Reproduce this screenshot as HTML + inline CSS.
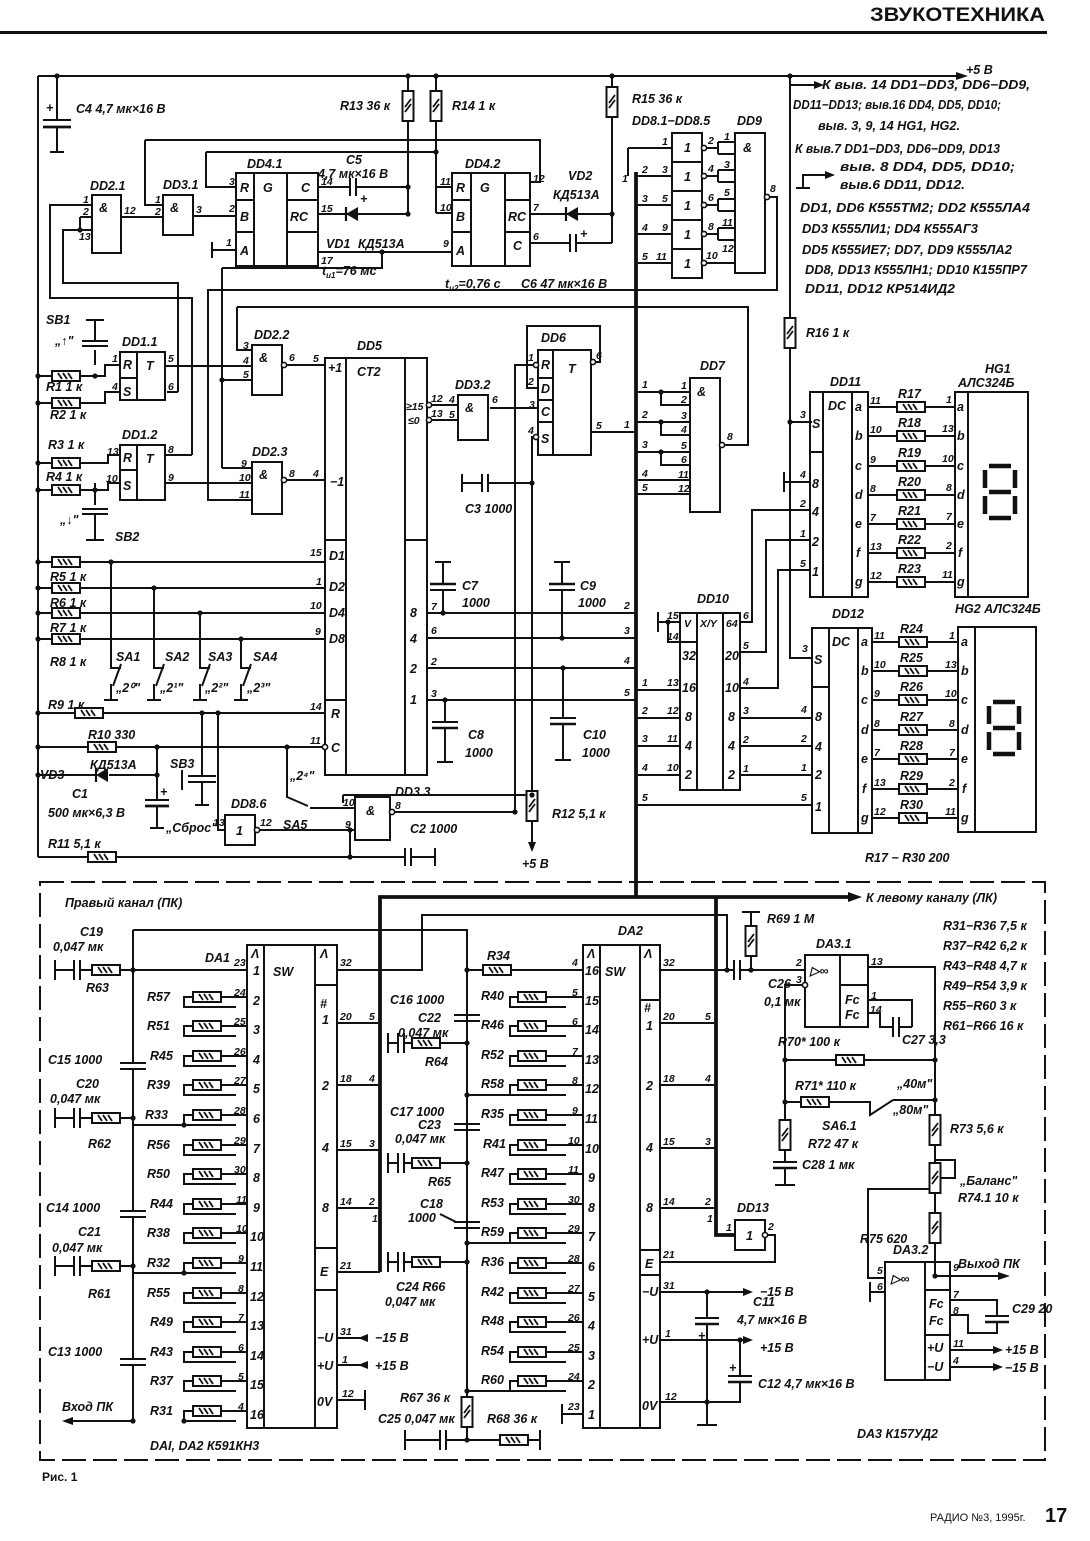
<!DOCTYPE html>
<html><head><meta charset="utf-8">
<style>
html,body{margin:0;padding:0;background:#fff}
svg{display:block}
.l{stroke:#111;stroke-width:2;fill:none}
.b{stroke:#111;stroke-width:3.8;fill:none}
.d{stroke:#111;stroke-width:2;fill:none;stroke-dasharray:24 7}
.s{stroke:#111;stroke-width:4.5;fill:none}
text{font-family:"Liberation Sans",sans-serif;fill:#111}
.t{font-style:italic;font-weight:bold;font-size:12.5px}
.p{font-style:italic;font-weight:bold;font-size:10.5px}
</style></head><body>
<svg width="1090" height="1541" viewBox="0 0 1090 1541" xmlns="http://www.w3.org/2000/svg">
<defs>
<g id="rh"><rect x="-14" y="-5" width="28" height="10" fill="#fff" stroke="#111" stroke-width="2"/><path d="M-8,-3L-4,3M-3,-3L1,3M2,-3L6,3" stroke="#111" stroke-width="1.8"/></g>
<g id="rv"><rect x="-5.5" y="-15" width="11" height="30" fill="#fff" stroke="#111" stroke-width="2"/><path d="M-3,6L3,-2M-3,1L3,-7" stroke="#111" stroke-width="1.8"/></g>
<g id="dl"><path d="M-6,-7V7" stroke="#111" stroke-width="2.2"/><polygon points="-6,0 6,-7 6,7" fill="#111"/></g>
<circle id="o" r="2.6" fill="#111"/>
<circle id="bb" r="2.6" fill="#fff" stroke="#111" stroke-width="1.6"/>
</defs>
<rect width="1090" height="1541" fill="#fff"/>

<!-- header -->
<text x="870" y="21" font-size="19" font-weight="bold" textLength="175" lengthAdjust="spacingAndGlyphs">ЗВУКОТЕХНИКА</text>
<rect x="0" y="31" width="1047" height="3" fill="#111"/>

<!-- ================= TOP SECTION ================= -->
<path class="l" d="M38,76H958 M38,76V857"/>
<polygon points="956,72 968,76 956,80" fill="#111"/>
<text class="t" x="966" y="74">+5 В</text>

<!-- C4 -->
<path class="l" d="M57,76V120 M43,120H71 M57,127V152 M50,152H64"/>
<path d="M43,127H71" stroke="#111" stroke-width="2.8"/>
<text class="t" x="46" y="112">+</text>
<text class="t" x="76" y="113">С4  4,7 мк×16 В</text>

<!-- R13 R14 -->
<path class="l" d="M408,76V92 M408,120V214 M436,76V92 M436,120V213 M436,187H452 M436,213H452"/>
<use href="#rv" x="408" y="106"/><use href="#rv" x="436" y="106"/>
<text class="t" x="340" y="110">R13 36 к</text>
<text class="t" x="452" y="110">R14  1 к</text>

<path class="l" d="M206,152H436 M206,152V187H236 M145,140H540V182H530 M145,140V205H163"/>

<!-- DD2.1 DD3.1 -->
<rect class="l" x="92" y="195" width="29" height="58"/>
<text class="t" x="99" y="212">&amp;</text>
<rect class="l" x="163" y="195" width="30" height="40"/>
<text class="t" x="170" y="212">&amp;</text>
<path class="l" d="M92,205H50V298H192V455 M92,217H80 M92,230H63V283H178V392 M80,217V230 M121,217H163 M193,216H236 M236,250H212 M212,242V258"/>
<text class="t" x="90" y="190">DD2.1</text>
<text class="t" x="163" y="189">DD3.1</text>
<text class="p" x="83" y="203">1</text><text class="p" x="83" y="215">2</text><text class="p" x="79" y="240">13</text>
<text class="p" x="124" y="214">12</text><text class="p" x="155" y="203">1</text><text class="p" x="155" y="215">2</text><text class="p" x="196" y="213">3</text>

<!-- DD4.1 -->
<rect class="l" x="236" y="173" width="82" height="93"/>
<path class="l" d="M254,173V266 M287,173V266 M236,200H254 M236,232H254 M287,200H318 M287,232H318"/>
<text class="t" x="240" y="192">R</text><text class="t" x="240" y="221">B</text><text class="t" x="240" y="255">A</text>
<text class="t" x="263" y="192">G</text><text class="t" x="301" y="192">C</text><text class="t" x="290" y="221">RC</text>
<text class="p" x="229" y="185">3</text><text class="p" x="229" y="212">2</text><text class="p" x="226" y="246">1</text>
<text class="p" x="321" y="185">14</text><text class="p" x="321" y="212">15</text><text class="p" x="321" y="264">17</text>
<text class="t" x="247" y="168">DD4.1</text>
<!-- C5 VD1 -->
<path class="l" d="M318,187H350 M350,178V196 M356,178V196 M356,187H408 M318,214H408 M318,252H452 M382,252V268H222"/>
<use href="#dl" x="352" y="214"/>
<text class="t" x="360" y="203">+</text>
<text class="t" x="346" y="164">С5</text>
<text class="t" x="318" y="178">4,7 мк×16 В</text>
<text class="t" x="326" y="248">VD1</text>
<text class="t" x="358" y="248">КД513А</text>
<text class="t" x="322" y="275">t<tspan font-size="8" dy="3">u1</tspan><tspan dy="-3">=76 мс</tspan></text>

<!-- DD4.2 -->
<rect class="l" x="452" y="173" width="78" height="93"/>
<path class="l" d="M471,173V266 M505,173V266 M452,200H471 M452,232H471 M505,200H530 M505,232H530"/>
<text class="t" x="456" y="192">R</text><text class="t" x="456" y="221">B</text><text class="t" x="456" y="255">A</text>
<text class="t" x="480" y="192">G</text><text class="t" x="508" y="221">RC</text><text class="t" x="513" y="250">C</text>
<text class="p" x="440" y="185">11</text><text class="p" x="440" y="211">10</text><text class="p" x="443" y="247">9</text>
<text class="p" x="533" y="182">12</text><text class="p" x="533" y="211">7</text><text class="p" x="533" y="240">6</text>
<text class="t" x="465" y="168">DD4.2</text>
<!-- VD2 C6 R15 -->
<path class="l" d="M530,214H612 M530,243H570 M570,234V252 M576,234V252 M576,243H612 M612,76V87 M612,117V243"/>
<use href="#dl" x="572" y="214"/><use href="#rv" x="612" y="102"/>
<text class="t" x="580" y="238">+</text>
<text class="t" x="568" y="180">VD2</text>
<text class="t" x="553" y="199">КД513А</text>
<text class="t" x="445" y="288">t<tspan font-size="8" dy="3">u2</tspan><tspan dy="-3">=0,76 с</tspan></text>
<text class="t" x="521" y="288">С6  47 мк×16 В</text>
<text class="t" x="632" y="103">R15 36 к</text>

<!-- DD8 / DD9 -->
<rect class="l" x="672" y="133" width="30" height="145"/>
<path class="l" d="M672,162H702 M672,191H702 M672,220H702 M672,249H702"/>
<text class="t" x="684" y="152">1</text><text class="t" x="684" y="181">1</text><text class="t" x="684" y="210">1</text><text class="t" x="684" y="239">1</text><text class="t" x="684" y="268">1</text>
<path class="l" d="M628,148H672 M628,148V176 M636,176H672 M636,205H672 M636,234H672 M636,263H672"/>
<path class="l" d="M705,148H718 M718,142V154 M718,142H735 M718,154H735 M705,176H718 M718,170V182 M718,170H735 M718,182H735 M705,205H718 M718,199V211 M718,199H735 M718,211H735 M705,234H718 M718,228V240 M718,228H735 M718,240H735 M705,263H735"/>
<use href="#bb" x="704" y="148"/><use href="#bb" x="704" y="176"/><use href="#bb" x="704" y="205"/><use href="#bb" x="704" y="234"/><use href="#bb" x="704" y="263"/>
<rect class="l" x="735" y="133" width="30" height="140"/>
<text class="t" x="743" y="152">&amp;</text>
<use href="#bb" x="767" y="197"/>
<path class="l" d="M770,197H777V290H208V500H252"/>
<text class="p" x="770" y="192">8</text>
<text class="t" x="632" y="125">DD8.1−DD8.5</text>
<text class="t" x="737" y="125">DD9</text>
<text class="p" x="662" y="145">1</text><text class="p" x="662" y="173">3</text><text class="p" x="662" y="202">5</text><text class="p" x="662" y="231">9</text><text class="p" x="656" y="260">11</text>
<text class="p" x="708" y="144">2</text><text class="p" x="708" y="172">4</text><text class="p" x="708" y="201">6</text><text class="p" x="708" y="230">8</text><text class="p" x="706" y="259">10</text>
<text class="p" x="724" y="140">1</text><text class="p" x="724" y="168">3</text><text class="p" x="724" y="196">5</text><text class="p" x="722" y="226">11</text><text class="p" x="722" y="252">12</text>
<text class="p" x="622" y="182">1</text><text class="p" x="642" y="173">2</text><text class="p" x="642" y="202">3</text><text class="p" x="642" y="231">4</text><text class="p" x="642" y="260">5</text>

<!-- right notes -->
<path class="l" d="M790,76V318 M790,348V658H812 M790,422H812 M790,85H815 M803,188V175H826 M796,188H810"/>
<polygon points="814,81 824,85 814,89" fill="#111"/>
<polygon points="825,171 835,175 825,179" fill="#111"/>
<use href="#rv" x="790" y="333"/>
<text class="t" x="806" y="337">R16  1 к</text>
<text class="t" x="822" y="89" textLength="208" lengthAdjust="spacingAndGlyphs">К выв. 14  DD1−DD3, DD6−DD9,</text>
<text class="t" x="793" y="109" textLength="208" lengthAdjust="spacingAndGlyphs">DD11−DD13; выв.16  DD4, DD5, DD10;</text>
<text class="t" x="818" y="130" textLength="142" lengthAdjust="spacingAndGlyphs">выв. 3, 9, 14  HG1, HG2.</text>
<text class="t" x="795" y="153" textLength="205" lengthAdjust="spacingAndGlyphs">К выв.7  DD1−DD3, DD6−DD9, DD13</text>
<text class="t" x="840" y="171" textLength="175" lengthAdjust="spacingAndGlyphs">выв. 8  DD4, DD5, DD10;</text>
<text class="t" x="840" y="189" textLength="125" lengthAdjust="spacingAndGlyphs">выв.6  DD11, DD12.</text>
<text class="t" x="800" y="212" textLength="230" lengthAdjust="spacingAndGlyphs">DD1, DD6   К555ТМ2;  DD2   К555ЛА4</text>
<text class="t" x="802" y="233" textLength="176" lengthAdjust="spacingAndGlyphs">DD3   К555ЛИ1;  DD4   К555АГ3</text>
<text class="t" x="802" y="254" textLength="210" lengthAdjust="spacingAndGlyphs">DD5   К555ИЕ7; DD7, DD9   К555ЛА2</text>
<text class="t" x="805" y="274" textLength="222" lengthAdjust="spacingAndGlyphs">DD8, DD13   К555ЛН1;  DD10   К155ПР7</text>
<text class="t" x="805" y="293" textLength="150" lengthAdjust="spacingAndGlyphs">DD11, DD12   КР514ИД2</text>

<!-- left mid: DD1, DD2.2, DD2.3 -->
<path class="l" d="M222,268V468 M222,380H252 M222,468H252 M237,307H748V445H724 M237,307V350H252"/>
<rect class="l" x="252" y="345" width="30" height="50"/><text class="t" x="259" y="362">&amp;</text>
<rect class="l" x="252" y="462" width="30" height="52"/><text class="t" x="259" y="479">&amp;</text>
<use href="#bb" x="284" y="365"/><use href="#bb" x="284" y="480"/>
<text class="t" x="254" y="339">DD2.2</text><text class="t" x="252" y="456">DD2.3</text>
<text class="p" x="243" y="349">3</text><text class="p" x="243" y="364">4</text><text class="p" x="243" y="378">5</text>
<text class="p" x="289" y="361">6</text><text class="p" x="241" y="467">9</text><text class="p" x="239" y="481">10</text><text class="p" x="239" y="498">11</text><text class="p" x="289" y="477">8</text>
<rect class="l" x="120" y="352" width="45" height="48"/>
<path class="l" d="M137,352V400 M120,378H137"/>
<rect class="l" x="120" y="445" width="45" height="55"/>
<path class="l" d="M137,445V500 M120,470H137"/>
<text class="t" x="123" y="369">R</text><text class="t" x="123" y="396">S</text><text class="t" x="146" y="370">T</text>
<text class="t" x="123" y="462">R</text><text class="t" x="123" y="490">S</text><text class="t" x="146" y="463">T</text>
<text class="t" x="122" y="346">DD1.1</text><text class="t" x="122" y="439">DD1.2</text>
<text class="p" x="112" y="362">1</text><text class="p" x="112" y="390">4</text><text class="p" x="168" y="362">5</text><text class="p" x="168" y="390">6</text>
<text class="p" x="107" y="455">13</text><text class="p" x="106" y="482">10</text><text class="p" x="168" y="453">8</text><text class="p" x="168" y="481">9</text>
<path class="l" d="M165,366H252 M167,392H178 M165,483H252 M165,455H192 M286,365H325 M286,480H325"/>

<!-- left resistors -->
<path class="l" d="M38,376H52 M80,376H105V365H120 M38,403H52 M80,403H105V392H120 M38,463H52 M80,463H108V455H120 M38,490H52 M80,490H108V483H120"/>
<use href="#rh" x="66" y="376"/><use href="#rh" x="66" y="403"/><use href="#rh" x="66" y="463"/><use href="#rh" x="66" y="490"/>
<text class="t" x="46" y="391">R1  1 к</text><text class="t" x="50" y="419">R2  1 к</text>
<text class="t" x="48" y="449">R3  1 к</text><text class="t" x="46" y="481">R4  1 к</text>
<path class="l" d="M95,365V350 M82,346H108 M82,341H108 M95,341V320 M86,320H104 M95,483V505 M82,509H108 M82,514H108 M95,514V540 M86,540H104"/>
<text class="t" x="46" y="324">SB1</text><text class="t" x="55" y="345">„↑"</text>
<text class="t" x="115" y="541">SB2</text><text class="t" x="60" y="524">„↓"</text>

<path class="l" d="M38,562H52 M80,562H325 M38,588H52 M80,588H325 M38,613H52 M80,613H325 M38,639H52 M80,639H325"/>
<use href="#rh" x="66" y="562"/><use href="#rh" x="66" y="588"/><use href="#rh" x="66" y="613"/><use href="#rh" x="66" y="639"/>
<text class="t" x="50" y="581">R5  1 к</text><text class="t" x="50" y="607">R6  1 к</text><text class="t" x="50" y="632">R7  1 к</text><text class="t" x="50" y="666">R8  1 к</text>
<path class="l" d="M111,562V668H121 M121,664L113,686 M111,684V700 M104,700H118 M154,588V668H164 M164,664L156,686 M154,684V700 M147,700H161 M200,613V668H210 M210,664L202,686 M200,684V700 M193,700H207 M241,639V668H251 M251,664L243,686 M241,684V700 M234,700H248"/>
<text class="t" x="116" y="661">SA1</text><text class="t" x="165" y="661">SA2</text><text class="t" x="208" y="661">SA3</text><text class="t" x="253" y="661">SA4</text>
<text class="t" x="116" y="692">„2⁰"</text><text class="t" x="160" y="692">„2¹"</text><text class="t" x="205" y="692">„2²"</text><text class="t" x="247" y="692">„2³"</text>

<path class="l" d="M38,713H75 M103,713H325 M38,747H88 M116,747H323 M38,775H95 M109,775H157 M157,747V800 M145,800H169 M157,806V828 M150,828H164"/>
<path d="M145,806H169" stroke="#111" stroke-width="2.8"/>
<use href="#rh" x="89" y="713"/><use href="#rh" x="102" y="747"/><use href="#dl" x="102" y="775"/>
<text class="t" x="48" y="709">R9  1 к</text><text class="t" x="88" y="739">R10  330</text>
<text class="t" x="40" y="779">VD3</text><text class="t" x="90" y="769">КД513А</text>
<text class="t" x="160" y="796">+</text>
<text class="t" x="72" y="798">С1</text><text class="t" x="48" y="817">500 мк×6,3 В</text>
<path class="l" d="M38,857H88 M116,857H405 M405,848V866 M411,848V866 M411,857H435 M435,848V866"/>
<use href="#rh" x="102" y="857"/>
<text class="t" x="48" y="848">R11  5,1 к</text><text class="t" x="410" y="833">С2  1000</text>
<path class="l" d="M202,713V776 M188,776H216 M188,782H216 M202,782V805 M195,805H209 M182,770V790"/>
<text class="t" x="170" y="768">SB3</text><text class="t" x="166" y="832">„Сброс"</text>
<rect class="l" x="225" y="815" width="30" height="30"/><text class="t" x="236" y="835">1</text>
<use href="#bb" x="257" y="830"/>
<path class="l" d="M218,713V830H225 M260,830H355 M287,747V797L308,806 M310,808H355 M343,795H532 M343,795V803 M350,830V857"/>
<text class="t" x="231" y="808">DD8.6</text><text class="p" x="213" y="826">13</text><text class="p" x="260" y="826">12</text>
<text class="t" x="283" y="829">SA5</text><text class="t" x="290" y="780">„2⁴"</text>
<rect class="l" x="355" y="797" width="35" height="43"/><text class="t" x="366" y="815">&amp;</text>
<use href="#bb" x="392" y="812"/>
<text class="t" x="395" y="796">DD3.3</text><text class="p" x="343" y="806">10</text><text class="p" x="345" y="828">9</text><text class="p" x="395" y="809">8</text>

<!-- DD5 -->
<rect class="l" x="325" y="358" width="102" height="417"/>
<path class="l" d="M346,358V775 M405,358V775 M325,540H346 M325,700H346 M405,540H427"/>
<use href="#bb" x="325" y="747"/><use href="#bb" x="429" y="405"/><use href="#bb" x="429" y="420"/>
<text class="t" x="357" y="350">DD5</text><text class="t" x="357" y="376">CT2</text>
<text class="t" x="328" y="372">+1</text><text class="t" x="330" y="486">−1</text>
<text class="t" x="329" y="560">D1</text><text class="t" x="329" y="591">D2</text><text class="t" x="329" y="617">D4</text><text class="t" x="329" y="643">D8</text>
<text class="t" x="331" y="718">R</text><text class="t" x="331" y="752">C</text>
<text class="p" x="406" y="410">≥15</text><text class="p" x="408" y="424">≤0</text>
<text class="t" x="410" y="617">8</text><text class="t" x="410" y="643">4</text><text class="t" x="410" y="673">2</text><text class="t" x="410" y="704">1</text>
<text class="p" x="313" y="362">5</text><text class="p" x="313" y="477">4</text><text class="p" x="310" y="556">15</text><text class="p" x="316" y="585">1</text>
<text class="p" x="310" y="609">10</text><text class="p" x="315" y="635">9</text><text class="p" x="310" y="710">14</text><text class="p" x="310" y="744">11</text>
<text class="p" x="431" y="402">12</text><text class="p" x="431" y="417">13</text>
<text class="p" x="431" y="610">7</text><text class="p" x="431" y="634">6</text><text class="p" x="431" y="665">2</text><text class="p" x="431" y="697">3</text>
<path class="l" d="M432,405H458 M432,420H458 M427,613H636 M427,638H636 M427,668H636 M427,700H636"/>

<!-- DD3.2 DD6 C3 R12 -->
<rect class="l" x="458" y="395" width="30" height="45"/><text class="t" x="465" y="412">&amp;</text>
<text class="t" x="455" y="389">DD3.2</text><text class="p" x="449" y="403">4</text><text class="p" x="449" y="418">5</text><text class="p" x="492" y="403">6</text>
<rect class="l" x="538" y="350" width="53" height="105"/>
<path class="l" d="M553,350V455 M538,378H553 M538,400H553 M538,422H553"/>
<text class="t" x="541" y="369">R</text><text class="t" x="541" y="393">D</text><text class="t" x="541" y="416">C</text><text class="t" x="541" y="443">S</text><text class="t" x="568" y="373">T</text>
<text class="t" x="541" y="342">DD6</text>
<text class="p" x="528" y="361">1</text><text class="p" x="528" y="385">2</text><text class="p" x="529" y="408">3</text><text class="p" x="528" y="434">4</text>
<text class="p" x="596" y="359">6</text><text class="p" x="596" y="429">5</text><text class="p" x="624" y="428">1</text>
<use href="#bb" x="536" y="365"/><use href="#bb" x="536" y="437"/><use href="#bb" x="593" y="362"/>
<path class="l" d="M490,408H538 M595,362H600V326H527V388H538 M533,365H515V812H395 M533,437H532V790 M532,822V842 M591,432H636"/>
<use href="#rv" x="532" y="806"/>
<polygon points="528,842 536,842 532,852" fill="#111"/>
<text class="t" x="552" y="818">R12  5,1 к</text><text class="t" x="522" y="868">+5 В</text>
<path class="l" d="M462,474V492 M462,483H482 M482,474V492 M488,474V492 M488,483H532"/>
<text class="t" x="465" y="513">С3  1000</text>

<!-- C7 C8 C9 C10 -->
<path class="l" d="M443,613V590 M430,590H456 M443,584V562 M435,562H451 M562,638V590 M549,590H575 M562,584V562 M554,562H570 M445,700V722 M432,722H458 M445,728V762 M437,762H453 M563,668V718 M550,718H576 M563,724V760 M555,760H571"/>
<path d="M430,584H456 M549,584H575 M432,728H458 M550,724H576" stroke="#111" stroke-width="2.6"/>
<text class="t" x="462" y="590">С7</text><text class="t" x="462" y="607">1000</text>
<text class="t" x="580" y="590">С9</text><text class="t" x="578" y="607">1000</text>
<text class="t" x="468" y="739">С8</text><text class="t" x="465" y="757">1000</text>
<text class="t" x="583" y="739">С10</text><text class="t" x="582" y="757">1000</text>
<text class="p" x="624" y="609">2</text><text class="p" x="624" y="634">3</text><text class="p" x="624" y="664">4</text><text class="p" x="624" y="696">5</text>

<!-- DD7 -->
<rect class="l" x="690" y="378" width="30" height="134"/>
<text class="t" x="697" y="396">&amp;</text><text class="t" x="700" y="370">DD7</text>
<use href="#bb" x="722" y="445"/><text class="p" x="727" y="440">8</text>
<path class="l" d="M636,392H690 M661,392V405H690 M636,422H690 M661,422V435H690 M636,452H690 M661,452V465H690 M636,480H690 M636,494H690"/>
<text class="p" x="642" y="388">1</text><text class="p" x="642" y="418">2</text><text class="p" x="642" y="448">3</text><text class="p" x="642" y="477">4</text><text class="p" x="642" y="491">5</text>
<text class="p" x="681" y="389">1</text><text class="p" x="681" y="403">2</text><text class="p" x="681" y="419">3</text><text class="p" x="681" y="433">4</text><text class="p" x="681" y="449">5</text><text class="p" x="681" y="463">6</text><text class="p" x="678" y="478">11</text><text class="p" x="678" y="492">12</text>

<!-- DD10 -->
<rect class="l" x="680" y="613" width="60" height="177"/>
<path class="l" d="M697,613V790 M723,613V790 M680,642H697 M680,622H658 M658,612V632 M668,622V642H680"/>
<text class="t" x="697" y="603">DD10</text>
<text class="p" x="684" y="627">V</text><text class="p" x="700" y="627">X/Y</text><text class="p" x="726" y="627">64</text>
<text class="t" x="682" y="660">32</text><text class="t" x="682" y="692">16</text><text class="t" x="685" y="721">8</text><text class="t" x="685" y="750">4</text><text class="t" x="685" y="779">2</text>
<text class="t" x="725" y="660">20</text><text class="t" x="725" y="692">10</text><text class="t" x="728" y="721">8</text><text class="t" x="728" y="750">4</text><text class="t" x="728" y="779">2</text>
<text class="p" x="667" y="619">15</text><text class="p" x="667" y="640">14</text><text class="p" x="667" y="686">13</text><text class="p" x="667" y="714">12</text><text class="p" x="667" y="742">11</text><text class="p" x="667" y="771">10</text>
<text class="p" x="743" y="619">6</text><text class="p" x="743" y="649">5</text><text class="p" x="743" y="685">4</text><text class="p" x="743" y="714">3</text><text class="p" x="743" y="743">2</text><text class="p" x="743" y="772">1</text>
<path class="l" d="M636,690H680 M636,718H680 M636,746H680 M636,775H680 M636,805H812 M740,622H752V510H810 M740,652H766V540H810 M740,688H778V570H810 M740,718H812 M740,746H812 M740,775H812 M784,482H810 M784,472V492"/>
<text class="p" x="642" y="686">1</text><text class="p" x="642" y="714">2</text><text class="p" x="642" y="742">3</text><text class="p" x="642" y="771">4</text><text class="p" x="642" y="801">5</text>

<!-- DD11 HG1 -->
<rect class="l" x="810" y="392" width="58" height="205"/>
<path class="l" d="M823,392V597 M852,392V597 M810,452H823"/>
<text class="t" x="830" y="386">DD11</text>
<text class="t" x="812" y="428">S</text><text class="t" x="828" y="410">DC</text>
<text class="t" x="812" y="488">8</text><text class="t" x="812" y="516">4</text><text class="t" x="812" y="546">2</text><text class="t" x="812" y="576">1</text>
<text class="t" x="855" y="411">a</text><text class="t" x="855" y="440">b</text><text class="t" x="855" y="470">c</text><text class="t" x="855" y="499">d</text><text class="t" x="855" y="528">e</text><text class="t" x="856" y="557">f</text><text class="t" x="855" y="586">g</text>
<text class="p" x="800" y="418">3</text><text class="p" x="800" y="478">4</text><text class="p" x="800" y="507">2</text><text class="p" x="800" y="537">1</text><text class="p" x="800" y="567">5</text>
<path class="l" d="M868,407H897 M925,407H955 M868,436H897 M925,436H955 M868,466H897 M925,466H955 M868,495H897 M925,495H955 M868,524H897 M925,524H955 M868,553H897 M925,553H955 M868,582H897 M925,582H955"/>
<use href="#rh" x="911" y="407"/><use href="#rh" x="911" y="436"/><use href="#rh" x="911" y="466"/><use href="#rh" x="911" y="495"/><use href="#rh" x="911" y="524"/><use href="#rh" x="911" y="553"/><use href="#rh" x="911" y="582"/>
<text class="t" x="898" y="398">R17</text><text class="t" x="898" y="427">R18</text><text class="t" x="898" y="457">R19</text><text class="t" x="898" y="486">R20</text><text class="t" x="898" y="515">R21</text><text class="t" x="898" y="544">R22</text><text class="t" x="898" y="573">R23</text>
<text class="p" x="870" y="404">11</text><text class="p" x="870" y="433">10</text><text class="p" x="870" y="463">9</text><text class="p" x="870" y="492">8</text><text class="p" x="870" y="521">7</text><text class="p" x="870" y="550">13</text><text class="p" x="870" y="579">12</text>
<rect class="l" x="955" y="392" width="73" height="205"/>
<path class="l" d="M968,392V597"/>
<text class="t" x="957" y="411">a</text><text class="t" x="957" y="440">b</text><text class="t" x="957" y="470">c</text><text class="t" x="957" y="499">d</text><text class="t" x="957" y="528">e</text><text class="t" x="958" y="557">f</text><text class="t" x="957" y="586">g</text>
<text class="p" x="946" y="403">1</text><text class="p" x="942" y="432">13</text><text class="p" x="942" y="462">10</text><text class="p" x="946" y="491">8</text><text class="p" x="946" y="520">7</text><text class="p" x="946" y="549">2</text><text class="p" x="942" y="578">11</text>
<path class="s" d="M989,466H1011 M989,492H1011 M989,518H1011 M985,470V488 M1015,470V488 M985,496V514 M1015,496V514"/>
<text class="t" x="985" y="373">HG1</text><text class="t" x="958" y="387">АЛС324Б</text>

<!-- DD12 HG2 -->
<rect class="l" x="812" y="628" width="60" height="205"/>
<path class="l" d="M829,628V833 M858,628V833 M812,687H829"/>
<text class="t" x="832" y="618">DD12</text>
<text class="t" x="814" y="664">S</text><text class="t" x="832" y="646">DC</text>
<text class="t" x="815" y="721">8</text><text class="t" x="815" y="751">4</text><text class="t" x="815" y="779">2</text><text class="t" x="815" y="811">1</text>
<text class="t" x="861" y="646">a</text><text class="t" x="861" y="675">b</text><text class="t" x="861" y="704">c</text><text class="t" x="861" y="734">d</text><text class="t" x="861" y="763">e</text><text class="t" x="862" y="793">f</text><text class="t" x="861" y="822">g</text>
<text class="p" x="802" y="652">3</text><text class="p" x="801" y="713">4</text><text class="p" x="801" y="742">2</text><text class="p" x="801" y="771">1</text><text class="p" x="801" y="801">5</text>
<path class="l" d="M872,642H899 M927,642H958 M872,671H899 M927,671H958 M872,700H899 M927,700H958 M872,730H899 M927,730H958 M872,759H899 M927,759H958 M872,789H899 M927,789H958 M872,818H899 M927,818H958"/>
<use href="#rh" x="913" y="642"/><use href="#rh" x="913" y="671"/><use href="#rh" x="913" y="700"/><use href="#rh" x="913" y="730"/><use href="#rh" x="913" y="759"/><use href="#rh" x="913" y="789"/><use href="#rh" x="913" y="818"/>
<text class="t" x="900" y="633">R24</text><text class="t" x="900" y="662">R25</text><text class="t" x="900" y="691">R26</text><text class="t" x="900" y="721">R27</text><text class="t" x="900" y="750">R28</text><text class="t" x="900" y="780">R29</text><text class="t" x="900" y="809">R30</text>
<text class="p" x="874" y="639">11</text><text class="p" x="874" y="668">10</text><text class="p" x="874" y="697">9</text><text class="p" x="874" y="727">8</text><text class="p" x="874" y="756">7</text><text class="p" x="874" y="786">13</text><text class="p" x="874" y="815">12</text>
<rect class="l" x="958" y="627" width="78" height="205"/>
<path class="l" d="M975,627V832"/>
<text class="t" x="961" y="646">a</text><text class="t" x="961" y="675">b</text><text class="t" x="961" y="704">c</text><text class="t" x="961" y="734">d</text><text class="t" x="961" y="763">e</text><text class="t" x="962" y="793">f</text><text class="t" x="961" y="822">g</text>
<text class="p" x="949" y="639">1</text><text class="p" x="945" y="668">13</text><text class="p" x="945" y="697">10</text><text class="p" x="949" y="727">8</text><text class="p" x="949" y="756">7</text><text class="p" x="949" y="786">2</text><text class="p" x="945" y="815">11</text>
<path class="s" d="M993,702H1015 M993,728H1015 M993,754H1015 M989,706V724 M1019,706V724 M989,732V750 M1019,732V750"/>
<text class="t" x="955" y="613">HG2  АЛС324Б</text>
<text class="t" x="865" y="862">R17 − R30    200</text>

<!-- main bus -->
<path class="b" d="M636,172V897 M380,1272V897H850 M716,897V1235H735"/>
<polygon points="848,892 862,897 848,902" fill="#111"/>

<!-- ================= BOTTOM SECTION ================= -->
<path class="d" d="M40,882H1045V1460H40Z"/>
<text class="t" x="65" y="907">Правый  канал (ПК)</text>
<text class="t" x="866" y="902">К левому  каналу (ЛК)</text>

<!-- DA1 -->
<rect class="l" x="247" y="945" width="90" height="483"/>
<path class="l" d="M264,945V1428 M315,945V1428 M315,985H337 M315,1248H337 M315,1290H337"/>
<text class="t" x="205" y="962">DA1</text>
<text class="t" x="251" y="958">Λ</text><text class="t" x="320" y="958">Λ</text>
<text class="t" x="273" y="976" font-size="14">SW</text>
<text class="t" x="320" y="1008">#</text><text class="t" x="322" y="1024">1</text><text class="t" x="322" y="1090">2</text><text class="t" x="322" y="1152">4</text><text class="t" x="322" y="1212">8</text>
<text class="t" x="320" y="1276">E</text><text class="t" x="317" y="1342">−U</text><text class="t" x="317" y="1370">+U</text><text class="t" x="317" y="1406">0V</text>
<g class="t">
<text x="253" y="975">1</text><text x="253" y="1005">2</text><text x="253" y="1034">3</text><text x="253" y="1064">4</text><text x="253" y="1093">5</text><text x="253" y="1123">6</text><text x="253" y="1153">7</text><text x="253" y="1182">8</text>
<text x="253" y="1212">9</text><text x="250" y="1241">10</text><text x="250" y="1271">11</text><text x="250" y="1301">12</text><text x="250" y="1330">13</text><text x="250" y="1360">14</text><text x="250" y="1389">15</text><text x="250" y="1419">16</text>
</g>
<g class="p">
<text x="234" y="966">23</text><text x="234" y="996">24</text><text x="234" y="1025">25</text><text x="234" y="1055">26</text><text x="234" y="1084">27</text><text x="234" y="1114">28</text><text x="234" y="1144">29</text><text x="234" y="1173">30</text>
<text x="236" y="1203">11</text><text x="236" y="1232">10</text><text x="238" y="1262">9</text><text x="238" y="1292">8</text><text x="238" y="1321">7</text><text x="238" y="1351">6</text><text x="238" y="1380">5</text><text x="238" y="1410">4</text>
</g>
<g class="p">
<text x="340" y="966">32</text><text x="340" y="1020">20</text><text x="340" y="1082">18</text><text x="340" y="1147">15</text><text x="340" y="1205">14</text><text x="340" y="1269">21</text><text x="340" y="1335">31</text><text x="342" y="1363">1</text><text x="342" y="1397">12</text>
<text x="369" y="1020">5</text><text x="369" y="1082">4</text><text x="369" y="1147">3</text><text x="369" y="1205">2</text><text x="372" y="1222">1</text>
</g>
<path class="l" d="M337,970H422V915H727V970 M337,1023H380 M337,1085H380 M337,1150H380 M337,1208H380 M337,1272H380 M337,1338H368 M337,1365H368 M337,1400H365 M365,1390V1410"/>
<polygon points="368,1334 358,1338 368,1342" fill="#111"/>
<polygon points="368,1361 358,1365 368,1369" fill="#111"/>
<text class="t" x="375" y="1342">−15 В</text><text class="t" x="375" y="1370">+15 В</text>

<!-- DA1 input ladder -->
<path class="l" d="M221,997H247 M193,997H184V1007H236 M221,1026H247 M193,1026H184V1036H236 M221,1056H247 M193,1056H184V1066H236 M221,1085H247 M193,1085H184V1095H236 M221,1115H247 M193,1115H184V1125H236 M221,1145H247 M193,1145H184V1155H236 M221,1174H247 M193,1174H184V1184H236 M221,1204H247 M193,1204H184V1214H236 M221,1233H247 M193,1233H184V1243H236 M221,1263H247 M193,1263H184V1273H236 M221,1293H247 M193,1293H184V1303H236 M221,1322H247 M193,1322H184V1332H236 M221,1352H247 M193,1352H184V1362H236 M221,1381H247 M193,1381H184V1391H236 M221,1411H247 M193,1411H184V1421H236"/>
<g>
<use href="#rh" x="207" y="997"/><use href="#rh" x="207" y="1026"/><use href="#rh" x="207" y="1056"/><use href="#rh" x="207" y="1085"/><use href="#rh" x="207" y="1115"/><use href="#rh" x="207" y="1145"/><use href="#rh" x="207" y="1174"/><use href="#rh" x="207" y="1204"/>
<use href="#rh" x="207" y="1233"/><use href="#rh" x="207" y="1263"/><use href="#rh" x="207" y="1293"/><use href="#rh" x="207" y="1322"/><use href="#rh" x="207" y="1352"/><use href="#rh" x="207" y="1381"/><use href="#rh" x="207" y="1411"/>
</g>
<g class="t">
<text x="147" y="1001">R57</text><text x="147" y="1030">R51</text><text x="150" y="1060">R45</text><text x="147" y="1089">R39</text><text x="145" y="1119">R33</text><text x="147" y="1149">R56</text><text x="147" y="1178">R50</text><text x="150" y="1208">R44</text>
<text x="147" y="1237">R38</text><text x="147" y="1267">R32</text><text x="147" y="1297">R55</text><text x="150" y="1326">R49</text><text x="150" y="1356">R43</text><text x="150" y="1385">R37</text><text x="150" y="1415">R31</text>
</g>
<path class="l" d="M133,930H467V1398 M133,930V1063 M133,1069V1211 M133,1217V1359 M133,1365V1421 M120,1063H146 M120,1069H146 M120,1211H146 M120,1217H146 M120,1359H146 M120,1365H146 M133,1125H184 M133,1273H184 M133,1421H70"/>
<polygon points="62,1421 73,1417 73,1425" fill="#111"/>
<path class="l" d="M55,960V980 M55,970H74 M74,960V980 M80,960V980 M80,970H92 M120,970H247 M55,1108V1128 M55,1118H74 M74,1108V1128 M80,1108V1128 M80,1118H92 M120,1118H133 M55,1256V1276 M55,1266H74 M74,1256V1276 M80,1256V1276 M80,1266H92 M120,1266H133"/>
<use href="#rh" x="106" y="970"/><use href="#rh" x="106" y="1118"/><use href="#rh" x="106" y="1266"/>
<text class="t" x="80" y="936">С19</text><text class="t" x="53" y="951">0,047 мк</text><text class="t" x="86" y="992">R63</text>
<text class="t" x="76" y="1088">С20</text><text class="t" x="50" y="1103">0,047 мк</text><text class="t" x="88" y="1148">R62</text>
<text class="t" x="78" y="1236">С21</text><text class="t" x="52" y="1252">0,047 мк</text><text class="t" x="88" y="1298">R61</text>
<text class="t" x="48" y="1064">С15  1000</text><text class="t" x="46" y="1212">С14  1000</text><text class="t" x="48" y="1356">С13  1000</text>
<text class="t" x="62" y="1411">Вход ПК</text>
<text class="t" x="150" y="1450">DAI, DA2     К591КН3</text>

<!-- DA2 -->
<rect class="l" x="583" y="945" width="77" height="483"/>
<path class="l" d="M600,945V1428 M640,945V1428 M640,1000H660 M640,1250H660 M640,1275H660"/>
<text class="t" x="618" y="935">DA2</text>
<text class="t" x="587" y="958">Λ</text><text class="t" x="644" y="958">Λ</text>
<text class="t" x="605" y="976" font-size="14">SW</text>
<text class="t" x="644" y="1012">#</text><text class="t" x="646" y="1030">1</text><text class="t" x="646" y="1090">2</text><text class="t" x="646" y="1152">4</text><text class="t" x="646" y="1212">8</text>
<text class="t" x="645" y="1268">E</text><text class="t" x="642" y="1296">−U</text><text class="t" x="642" y="1344">+U</text><text class="t" x="642" y="1410">0V</text>
<g class="t">
<text x="585" y="975">16</text><text x="585" y="1005">15</text><text x="585" y="1034">14</text><text x="585" y="1064">13</text><text x="585" y="1093">12</text><text x="585" y="1123">11</text><text x="585" y="1153">10</text><text x="588" y="1182">9</text>
<text x="588" y="1212">8</text><text x="588" y="1241">7</text><text x="588" y="1271">6</text><text x="588" y="1301">5</text><text x="588" y="1330">4</text><text x="588" y="1360">3</text><text x="588" y="1389">2</text><text x="588" y="1419">1</text>
</g>
<g class="p">
<text x="572" y="966">4</text><text x="572" y="996">5</text><text x="572" y="1025">6</text><text x="572" y="1055">7</text><text x="572" y="1084">8</text><text x="572" y="1114">9</text><text x="568" y="1144">10</text><text x="568" y="1173">11</text>
<text x="568" y="1203">30</text><text x="568" y="1232">29</text><text x="568" y="1262">28</text><text x="568" y="1292">27</text><text x="568" y="1321">26</text><text x="568" y="1351">25</text><text x="568" y="1380">24</text><text x="568" y="1410">23</text>
</g>
<g class="p">
<text x="663" y="966">32</text><text x="663" y="1020">20</text><text x="663" y="1082">18</text><text x="663" y="1145">15</text><text x="663" y="1205">14</text><text x="663" y="1258">21</text><text x="663" y="1289">31</text><text x="665" y="1337">1</text><text x="665" y="1400">12</text>
<text x="705" y="1020">5</text><text x="705" y="1082">4</text><text x="705" y="1145">3</text><text x="705" y="1205">2</text><text x="707" y="1222">1</text>
</g>
<path class="l" d="M660,970H734 M660,1023H716 M660,1085H716 M660,1148H716 M660,1208H716 M660,1262H775V1235H763 M660,1292H745 M660,1340H745 M660,1402H707"/>
<polygon points="743,1288 753,1292 743,1296" fill="#111"/>
<polygon points="743,1336 753,1340 743,1344" fill="#111"/>
<text class="t" x="760" y="1296">−15 В</text><text class="t" x="760" y="1352">+15 В</text>
<path class="l" d="M707,1292V1318 M695,1318H719 M707,1324V1425 M697,1425H717 M740,1340V1376 M728,1376H752 M740,1382V1402H707"/>
<path d="M695,1324H719 M728,1382H752" stroke="#111" stroke-width="2.6"/>
<text class="t" x="698" y="1340">+</text><text class="t" x="729" y="1372">+</text>
<text class="t" x="753" y="1306">С11</text><text class="t" x="737" y="1324">4,7 мк×16 В</text>
<text class="t" x="758" y="1388">С12  4,7 мк×16 В</text>

<!-- DA2 ladder -->
<path class="l" d="M467,970H483 M511,970H583 M546,997H583 M518,997H510V1007H566 M546,1026H583 M518,1026H510V1036H566 M546,1056H583 M518,1056H510V1066H566 M546,1085H583 M518,1085H510V1095H566 M546,1115H583 M518,1115H510V1125H566 M546,1145H583 M518,1145H510V1155H566 M546,1174H583 M518,1174H510V1184H566 M546,1204H583 M518,1204H510V1214H566 M546,1233H583 M518,1233H510V1243H566 M546,1263H583 M518,1263H510V1273H566 M546,1293H583 M518,1293H510V1303H566 M546,1322H583 M518,1322H510V1332H566 M546,1352H583 M518,1352H510V1362H566 M546,1381H583 M518,1381H510V1391H566 M467,1095H510 M467,1243H510 M467,1391H510"/>
<use href="#rh" x="497" y="970"/>
<g>
<use href="#rh" x="532" y="997"/><use href="#rh" x="532" y="1026"/><use href="#rh" x="532" y="1056"/><use href="#rh" x="532" y="1085"/><use href="#rh" x="532" y="1115"/><use href="#rh" x="532" y="1145"/><use href="#rh" x="532" y="1174"/>
<use href="#rh" x="532" y="1204"/><use href="#rh" x="532" y="1233"/><use href="#rh" x="532" y="1263"/><use href="#rh" x="532" y="1293"/><use href="#rh" x="532" y="1322"/><use href="#rh" x="532" y="1352"/><use href="#rh" x="532" y="1381"/>
</g>
<text class="t" x="487" y="960">R34</text>
<g class="t">
<text x="481" y="1000">R40</text><text x="481" y="1029">R46</text><text x="481" y="1059">R52</text><text x="481" y="1088">R58</text><text x="481" y="1118">R35</text><text x="483" y="1148">R41</text><text x="481" y="1177">R47</text>
<text x="481" y="1207">R53</text><text x="481" y="1236">R59</text><text x="481" y="1266">R36</text><text x="481" y="1296">R42</text><text x="481" y="1325">R48</text><text x="481" y="1355">R54</text><text x="481" y="1384">R60</text>
</g>
<path class="l" d="M454,1015H480 M454,1021H480 M454,1124H480 M454,1130H480 M454,1222H480 M454,1228H480 M440,1214L456,1222"/>
<path class="l" d="M388,1033V1053 M388,1043H398 M398,1033V1053 M404,1033V1053 M404,1043H412 M440,1043H467 M388,1153V1173 M388,1163H398 M398,1153V1173 M404,1153V1173 M404,1163H412 M440,1163H467 M388,1252V1272 M388,1262H398 M398,1252V1272 M404,1252V1272 M404,1262H412 M440,1262H467"/>
<use href="#rh" x="426" y="1043"/><use href="#rh" x="426" y="1163"/><use href="#rh" x="426" y="1262"/>
<text class="t" x="390" y="1004">С16  1000</text><text class="t" x="418" y="1022">С22</text><text class="t" x="398" y="1037">0,047 мк</text><text class="t" x="425" y="1066">R64</text>
<text class="t" x="390" y="1116">С17  1000</text><text class="t" x="418" y="1129">С23</text><text class="t" x="395" y="1143">0,047 мк</text><text class="t" x="428" y="1186">R65</text>
<text class="t" x="420" y="1208">С18</text><text class="t" x="408" y="1222">1000</text>
<text class="t" x="396" y="1291">С24  R66</text><text class="t" x="385" y="1306">0,047 мк</text>
<use href="#rv" x="467" y="1412"/>
<path class="l" d="M467,1427V1440 M405,1430V1450 M405,1440H440 M440,1430V1450 M446,1430V1450 M446,1440H500 M528,1440H540 M540,1430V1450 M583,1414H562 M562,1404V1424"/>
<use href="#rh" x="514" y="1440"/>
<text class="t" x="400" y="1402">R67  36 к</text><text class="t" x="378" y="1423">С25  0,047 мк</text><text class="t" x="487" y="1423">R68   36 к</text>

<!-- DD13, C26, R69, DA3.1 -->
<rect class="l" x="735" y="1220" width="30" height="30"/><text class="t" x="746" y="1240">1</text>
<use href="#bb" x="765" y="1235"/>
<text class="t" x="737" y="1212">DD13</text><text class="p" x="726" y="1231">1</text><text class="p" x="768" y="1230">2</text>
<path class="l" d="M734,960V980 M740,960V980 M740,970H805 M751,970V956 M751,926V912 M742,912H760"/>
<use href="#rv" x="751" y="941"/>
<text class="t" x="767" y="923">R69  1 М</text>
<text class="t" x="768" y="988">С26</text><text class="t" x="764" y="1006">0,1 мк</text>
<rect class="l" x="805" y="955" width="63" height="72"/>
<path class="l" d="M840,955V1027 M840,985H868"/>
<text class="t" x="810" y="975">▷∞</text><text class="t" x="845" y="1004">Fc</text><text class="t" x="845" y="1019">Fc</text>
<text class="t" x="816" y="948">DA3.1</text>
<text class="p" x="796" y="966">2</text><text class="p" x="796" y="983">3</text><text class="p" x="871" y="965">13</text><text class="p" x="871" y="999">1</text><text class="p" x="870" y="1013">14</text>
<use href="#bb" x="805" y="985"/>
<path class="l" d="M802,985H785V1120 M785,1150V1162 M773,1162H797 M785,1168V1185 M775,1185H795 M785,1060H836 M864,1060H935 M868,967H935V1115 M935,1145V1162 M935,1194V1212 M935,1244V1276H1000 M868,1000H912V1027 M868,1013H880V1027H893 M893,1017V1037 M899,1017V1037 M899,1027H912"/>
<path d="M773,1168H797" stroke="#111" stroke-width="2.6"/>
<polygon points="998,1272 1010,1276 998,1280" fill="#111"/>
<use href="#rh" x="850" y="1060"/><use href="#rv" x="785" y="1135"/><use href="#rv" x="935" y="1130"/><use href="#rv" x="935" y="1178"/><use href="#rv" x="935" y="1228"/>
<path class="l" d="M785,1102H801 M829,1102H870V1115L893,1100 M893,1100H935 M935,1160H955V1178H941 M929,1189H868V1278H885"/>
<use href="#rh" x="815" y="1102"/>
<text class="t" x="902" y="1044">С27  3,3</text>
<text class="t" x="778" y="1046">R70*  100 к</text>
<text class="t" x="795" y="1090">R71*  110 к</text>
<text class="t" x="897" y="1088">„40м"</text><text class="t" x="893" y="1114">„80м"</text>
<text class="t" x="822" y="1130">SA6.1</text>
<text class="t" x="808" y="1148">R72   47 к</text><text class="t" x="802" y="1169">С28   1 мк</text>
<text class="t" x="950" y="1133">R73   5,6 к</text>
<text class="t" x="960" y="1185">„Баланс"</text><text class="t" x="958" y="1202">R74.1   10 к</text>
<text class="t" x="860" y="1243">R75  620</text>
<text class="t" x="958" y="1268">Выход ПК</text>

<!-- DA3.2 -->
<rect class="l" x="885" y="1262" width="65" height="118"/>
<path class="l" d="M925,1262V1380 M925,1290H950 M925,1335H950 M885,1292H870 M870,1282V1302 M950,1300H997V1316 M985,1316H1009 M997,1322V1333H968V1315H950 M950,1350H995 M950,1367H995"/>
<path d="M985,1322H1009" stroke="#111" stroke-width="2.4"/>
<polygon points="993,1346 1003,1350 993,1354" fill="#111"/>
<polygon points="993,1363 1003,1367 993,1371" fill="#111"/>
<text class="t" x="891" y="1283">▷∞</text><text class="t" x="929" y="1308">Fc</text><text class="t" x="929" y="1325">Fc</text><text class="t" x="927" y="1352">+U</text><text class="t" x="927" y="1371">−U</text>
<text class="t" x="893" y="1254">DA3.2</text>
<text class="p" x="877" y="1274">5</text><text class="p" x="877" y="1290">6</text><text class="p" x="953" y="1271">9</text><text class="p" x="953" y="1298">7</text><text class="p" x="953" y="1314">8</text><text class="p" x="953" y="1347">11</text><text class="p" x="953" y="1364">4</text>
<text class="t" x="1012" y="1313">С29   20</text>
<text class="t" x="1005" y="1354">+15 В</text><text class="t" x="1005" y="1372">−15 В</text>
<text class="t" x="857" y="1438">DA3   К157УД2</text>

<g class="t">
<text x="943" y="930">R31−R36  7,5 к</text>
<text x="943" y="950">R37−R42  6,2 к</text>
<text x="943" y="970">R43−R48  4,7 к</text>
<text x="943" y="990">R49−R54  3,9 к</text>
<text x="943" y="1010">R55−R60  3 к</text>
<text x="943" y="1030">R61−R66  16 к</text>
</g>

<!-- junction dots -->
<g>
<use href="#o" x="57" y="76"/><use href="#o" x="408" y="76"/><use href="#o" x="436" y="76"/><use href="#o" x="612" y="76"/><use href="#o" x="790" y="76"/>
<use href="#o" x="408" y="187"/><use href="#o" x="408" y="214"/><use href="#o" x="436" y="152"/><use href="#o" x="612" y="214"/><use href="#o" x="382" y="252"/>
<use href="#o" x="38" y="376"/><use href="#o" x="38" y="403"/><use href="#o" x="38" y="463"/><use href="#o" x="38" y="490"/><use href="#o" x="38" y="562"/><use href="#o" x="38" y="588"/><use href="#o" x="38" y="613"/><use href="#o" x="38" y="639"/><use href="#o" x="38" y="713"/><use href="#o" x="38" y="747"/><use href="#o" x="38" y="775"/>
<use href="#o" x="95" y="376"/><use href="#o" x="95" y="490"/><use href="#o" x="80" y="230"/><use href="#o" x="222" y="380"/>
<use href="#o" x="154" y="588"/><use href="#o" x="200" y="613"/><use href="#o" x="241" y="639"/><use href="#o" x="111" y="562"/>
<use href="#o" x="202" y="713"/><use href="#o" x="218" y="713"/><use href="#o" x="157" y="747"/><use href="#o" x="157" y="775"/><use href="#o" x="287" y="747"/><use href="#o" x="350" y="830"/><use href="#o" x="350" y="857"/>
<use href="#o" x="443" y="613"/><use href="#o" x="562" y="638"/><use href="#o" x="445" y="700"/><use href="#o" x="563" y="668"/><use href="#o" x="532" y="483"/><use href="#o" x="532" y="795"/><use href="#o" x="515" y="812"/>
<use href="#o" x="661" y="392"/><use href="#o" x="661" y="422"/><use href="#o" x="661" y="452"/><use href="#o" x="790" y="422"/><use href="#o" x="668" y="622"/>
<use href="#o" x="133" y="970"/><use href="#o" x="133" y="1118"/><use href="#o" x="133" y="1266"/><use href="#o" x="133" y="1421"/><use href="#o" x="184" y="1125"/><use href="#o" x="184" y="1273"/><use href="#o" x="184" y="1421"/>
<use href="#o" x="467" y="970"/><use href="#o" x="467" y="1043"/><use href="#o" x="467" y="1095"/><use href="#o" x="467" y="1163"/><use href="#o" x="467" y="1243"/><use href="#o" x="467" y="1262"/><use href="#o" x="467" y="1391"/><use href="#o" x="467" y="1440"/>
<use href="#o" x="727" y="970"/><use href="#o" x="751" y="970"/><use href="#o" x="785" y="1060"/><use href="#o" x="785" y="1102"/><use href="#o" x="935" y="1060"/><use href="#o" x="935" y="1100"/><use href="#o" x="935" y="1276"/>
<use href="#o" x="707" y="1292"/><use href="#o" x="740" y="1340"/><use href="#o" x="707" y="1402"/>
</g>

<!-- footer -->
<text x="42" y="1481" font-size="12" font-weight="bold">Рис. 1</text>
<text x="930" y="1521" font-size="11">РАДИО №3, 1995г.</text>
<text x="1045" y="1522" font-size="20" font-weight="bold">17</text>
</svg>
</body></html>
